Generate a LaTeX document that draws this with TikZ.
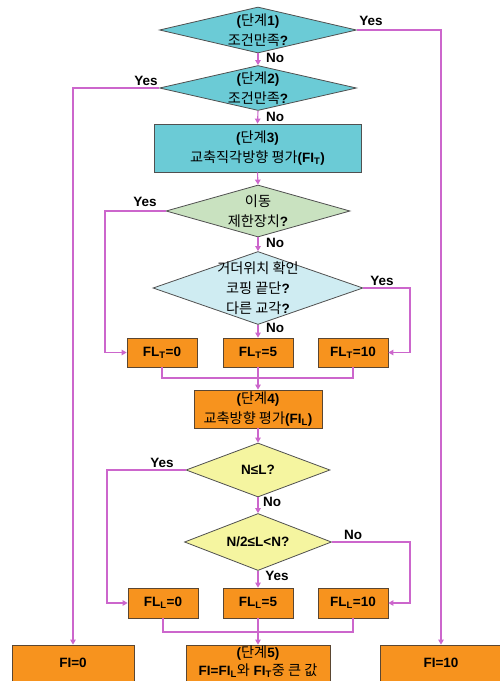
\documentclass[tikz,border=0pt]{standalone}
\usepackage{fontspec}
\setmainfont{Liberation Sans}
\newfontfamily\krfont[Scale=1.05]{Noto Sans CJK KR}
\newcommand\kr[1]{{\krfont\mdseries #1}}
\usetikzlibrary{shapes.geometric,arrows.meta}
\definecolor{tealc}{RGB}{107,203,214}
\definecolor{greenc}{RGB}{201,226,192}
\definecolor{lbluec}{RGB}{207,236,242}
\definecolor{yellowc}{RGB}{245,245,160}
\definecolor{orangec}{RGB}{247,147,30}
\definecolor{bordc}{RGB}{80,80,80}
\definecolor{obordc}{RGB}{90,70,50}
\definecolor{pinkc}{RGB}{204,102,204}
\tikzset{
  dia/.style={diamond, draw=bordc, line width=0.8pt, inner sep=0pt},
  obox/.style={rectangle, draw=obordc, line width=0.8pt, fill=orangec, inner sep=0pt},
  txt/.style={align=center, inner sep=0pt, font=\bfseries\fontsize{13.5}{20}\selectfont},
  lbl/.style={inner sep=0pt, font=\bfseries\fontsize{13.5}{15}\selectfont},
  conn/.style={draw=pinkc, line width=1.1pt, -{Triangle[length=5pt,width=5.5pt]}},
  plain/.style={draw=pinkc, line width=1.1pt},
}
\begin{document}
\begin{tikzpicture}[x=1pt,y=-1pt]
\useasboundingbox (0,0) rectangle (499,681);
\fill[white] (0,0) rectangle (499,681);
% shapes
\node[dia, fill=tealc, minimum width=197pt, minimum height=46pt] (d1) at (258,30) {};
\node[txt] (t1) at (d1) {(\kr{단계}1)\\\kr{조건만족}?};
\node[dia, fill=tealc, minimum width=197pt, minimum height=45pt] (d2) at (258,88) {};
\node[txt] (t2) at (d2) {(\kr{단계}2)\\\kr{조건만족}?};
\node[rectangle, draw=bordc, line width=0.8pt, fill=tealc, minimum width=207pt, minimum height=48pt] (r3) at (257.5,148) {};
\node[txt] (t3) at (r3) {(\kr{단계}3)\\\kr{교축직각방향 평가}(FI\textsubscript{T})};
\node[dia, fill=greenc, minimum width=184pt, minimum height=52pt] (d3) at (258,211) {};
\node[txt] (t4) at (d3) {\kr{이동}\\\kr{제한장치}?};
\node[dia, fill=lbluec, minimum width=210pt, minimum height=73pt] (d4) at (258,288) {};
\node[txt] (t5) at (d4) {\kr{거더위치 확인}\\\kr{코핑 끝단}?\\\kr{다른 교각}?};
\node[obox, minimum width=70pt, minimum height=29pt] (ft0) at (162,352.5) {};
\node[obox, minimum width=70pt, minimum height=29pt] (ft5) at (258,352.5) {};
\node[obox, minimum width=70pt, minimum height=29pt] (ft10) at (353,352.5) {};
\node[txt] at (ft0) {FL\textsubscript{T}=0};
\node[txt] at (ft5) {FL\textsubscript{T}=5};
\node[txt] at (ft10) {FL\textsubscript{T}=10};
\node[obox, minimum width=128pt, minimum height=38pt] (r4) at (258,409) {};
\node[txt] at (r4) {(\kr{단계}4)\\\kr{교축방향 평가}(FI\textsubscript{L})};
\node[dia, fill=yellowc, minimum width=144pt, minimum height=54pt] (d5) at (258,470) {};
\node[txt] at (d5) {N≤L?};
\node[dia, fill=yellowc, minimum width=147pt, minimum height=57pt] (d6) at (258,542) {};
\node[txt] at (d6) {N/2≤L<N?};
\node[obox, minimum width=70pt, minimum height=30pt] (fl0) at (163,603) {};
\node[obox, minimum width=70pt, minimum height=30pt] (fl5) at (258,603) {};
\node[obox, minimum width=70pt, minimum height=30pt] (fl10) at (353,603) {};
\node[txt] at (fl0) {FL\textsubscript{L}=0};
\node[txt] at (fl5) {FL\textsubscript{L}=5};
\node[txt] at (fl10) {FL\textsubscript{L}=10};
\node[obox, minimum width=122pt, minimum height=42pt] (fi0) at (73,666) {};
\node[obox, minimum width=144pt, minimum height=42pt] (s5) at (258,666) {};
\node[obox, minimum width=122pt, minimum height=42pt] (fi10) at (441,666) {};
\node[txt] at (73,663) {FI=0};
\node[txt, font=\bfseries\fontsize{13.5}{18}\selectfont] at (258,662) {(\kr{단계}5)\\FI=FI\textsubscript{L}\kr{와} FI\textsubscript{T}\kr{중 큰 값}};
\node[txt] at (441,663) {FI=10};
% coordinates
\coordinate (c3) at (105,211);
\coordinate (c4) at (410,288);
\coordinate (c5) at (107,470);
\coordinate (c6) at (410,542);
\coordinate (m1) at (258,378);
\coordinate (m2) at (258,632);
% connectors
\draw[conn] (d1.east) -| (fi10.north);
\draw[conn] (d2.west) -| (fi0.north);
\draw[conn] (d1.south) -- (d2.north);
\draw[conn] (d2.south) -- (r3.north);
\draw[conn] (r3.south) -- (d3.north);
\draw[conn] (d3.south) -- (d4.north);
\draw[conn] (d3.west) -- (c3) |- (ft0.west);
\draw[conn] (d4.east) -- (c4) |- (ft10.east);
\draw[conn] (d4.south) -- (ft5.north);
\draw[plain] (ft0.south) |- (m1) -| (ft10.south);
\draw[conn] (ft5.south) -- (r4.north);
\draw[conn] (r4.south) -- (d5.north);
\draw[conn] (d5.west) -- (c5) |- (fl0.west);
\draw[conn] (d5.south) -- (d6.north);
\draw[conn] (d6.east) -- (c6) |- (fl10.east);
\draw[conn] (d6.south) -- (fl5.north);
\draw[plain] (fl0.south) |- (m2) -| (fl10.south);
\draw[conn] (fl5.south) -- (s5.north);
% labels
\node[lbl] (y1) at (371,21) {Yes};
\node[lbl] (n1) at (275,58) {No};
\node[lbl] (y2) at (146,81) {Yes};
\node[lbl] (n2) at (275,117) {No};
\node[lbl] (y3) at (145,202) {Yes};
\node[lbl] (n3) at (275,243) {No};
\node[lbl] (y4) at (382,281) {Yes};
\node[lbl] (n4) at (275,328) {No};
\node[lbl] (y5) at (162,463) {Yes};
\node[lbl] (n5) at (272,502) {No};
\node[lbl] (n6) at (353,535) {No};
\node[lbl] (y6) at (277,576) {Yes};
\end{tikzpicture}
\end{document}
